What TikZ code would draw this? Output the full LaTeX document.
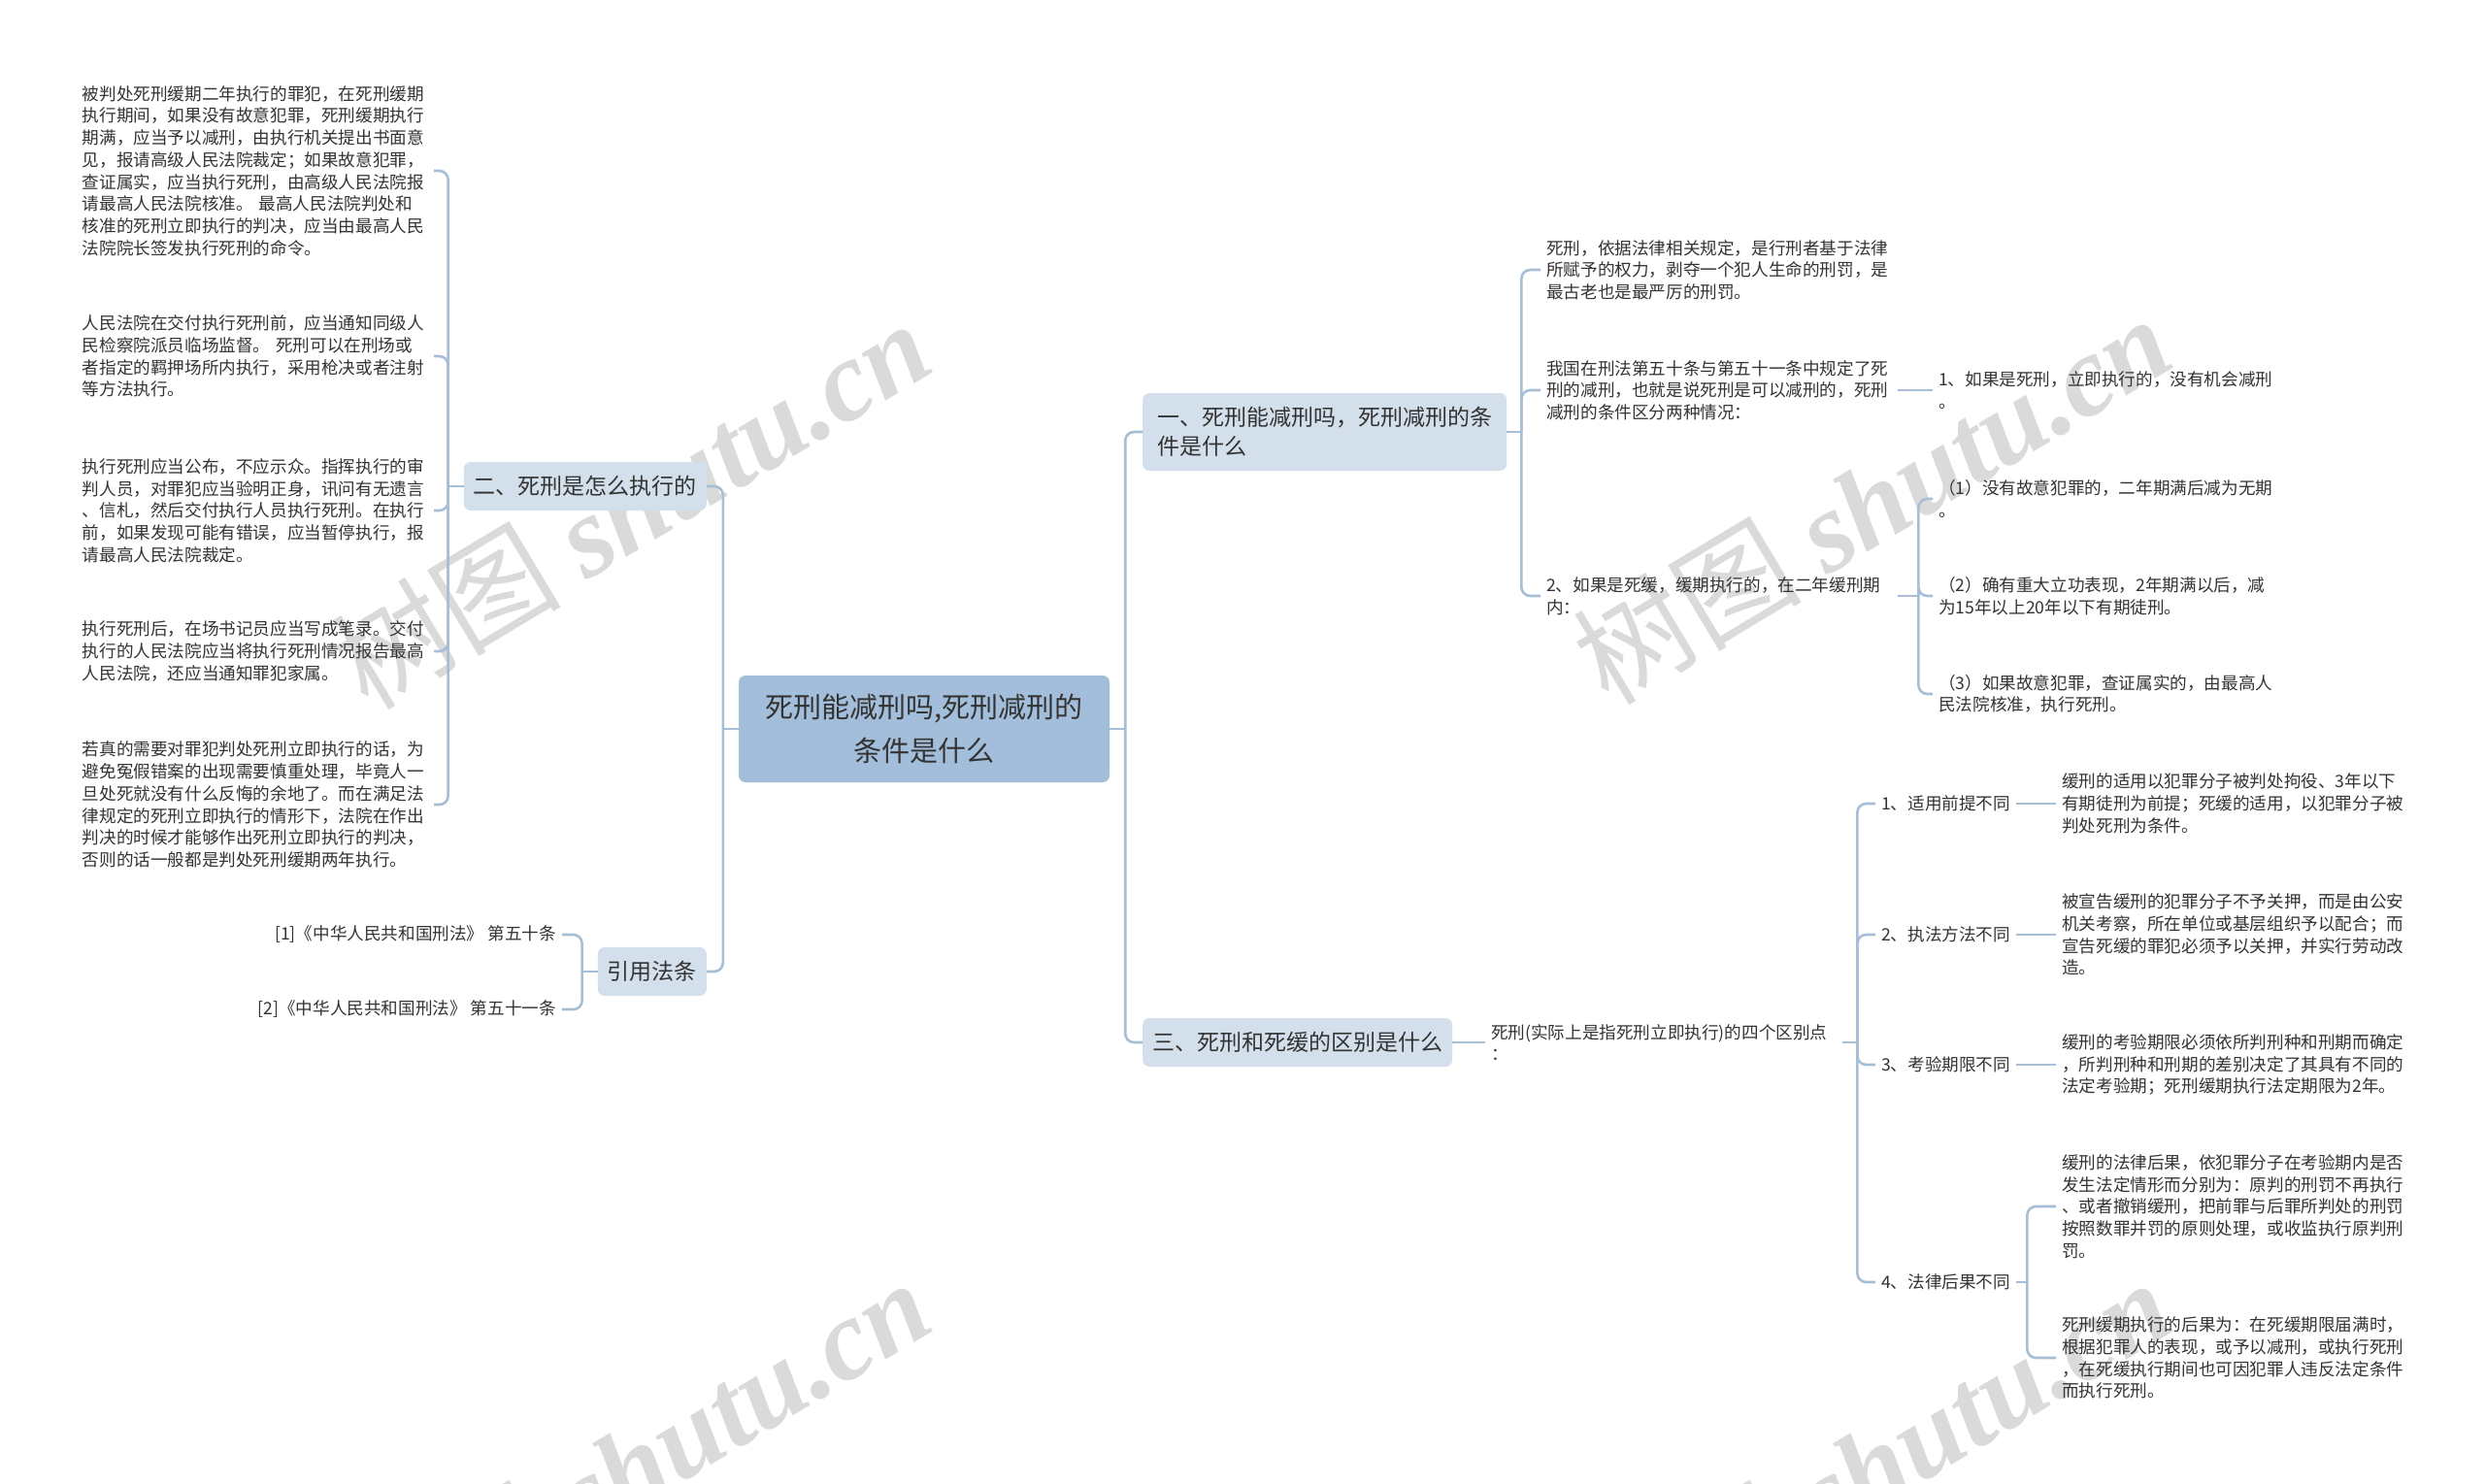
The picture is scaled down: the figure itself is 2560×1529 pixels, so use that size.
\documentclass[tikz,border=0pt]{standalone}
\usepackage{fontspec}
\setmainfont{Noto Sans CJK SC}
\newfontfamily\wmlatin{Liberation Serif}
\usepackage{tikz}
\definecolor{linkblue}{HTML}{A6BED6}
\definecolor{rootfill}{HTML}{A2BEDA}
\definecolor{topicfill}{HTML}{D3DFEA}
\definecolor{inkgray}{HTML}{333333}
\definecolor{markgray}{HTML}{DADADA}

\begin{document}
\begin{tikzpicture}[x=1pt, y=-1pt,
  link/.style={draw=linkblue, line width=2.6pt, rounded corners=9pt},
  rootbox/.style={fill=rootfill, rounded corners=7pt, align=center, text=inkgray, font=\fontsize{29}{45}\selectfont, minimum width=382pt, minimum height=110pt, inner sep=0pt},
  topicbox/.style={fill=topicfill, rounded corners=7pt, text=inkgray, font=\fontsize{23}{30}\selectfont, inner xsep=10pt, inner ysep=0pt, minimum height=50pt},
  leaf/.style={text=inkgray, font=\fontsize{17.6}{22.7}\selectfont, align=left, text width=356pt, inner xsep=6pt, inner ysep=2pt},
  tag/.style={text=inkgray, font=\fontsize{17.6}{22.7}\selectfont, inner xsep=6pt, inner ysep=2pt},
  wmark/.style={text=markgray, font=\fontsize{118}{118}\selectfont, rotate=31, inner sep=0pt}]
  \useasboundingbox (0,0) rectangle (2560,1529);
  \fill[white] (0,0) rectangle (2560,1529);
  \begin{scope}
    \clip (0,0) rectangle (2560,1529);
    \node[wmark] (w1) at (650,519) {树图 {\wmlatin\bfseries\itshape shutu.cn}};
    \node[wmark] (w2) at (1928,514) {树图 {\wmlatin\bfseries\itshape shutu.cn}};
    \node[wmark] (w3) at (650,1507) {树图 {\wmlatin\bfseries\itshape shutu.cn}};
    \node[wmark] (w4) at (1928,1507) {树图 {\wmlatin\bfseries\itshape shutu.cn}};
  \end{scope}
  \node[rootbox] (root) at (952,751) {死刑能减刑吗,死刑减刑的\\条件是什么};
  \node[topicbox, anchor=west, align=left, inner xsep=15pt, minimum height=80pt] (t1) at (1177,445) {一、死刑能减刑吗，死刑减刑的条\\件是什么};
  \node[topicbox, anchor=east] (t2) at (728,501) {二、死刑是怎么执行的};
  \node[topicbox, anchor=west] (t3) at (1177,1074) {三、死刑和死缓的区别是什么};
  \node[topicbox, anchor=east] (t4) at (728,1001) {引用法条};
  \node[leaf, anchor=east] (s1) at (447,176) {被判处死刑缓期二年执行的罪犯，在死刑缓期\\执行期间，如果没有故意犯罪，死刑缓期执行\\期满，应当予以减刑，由执行机关提出书面意\\见，报请高级人民法院裁定；如果故意犯罪，\\查证属实，应当执行死刑，由高级人民法院报\\请最高人民法院核准。 最高人民法院判处和\\核准的死刑立即执行的判决，应当由最高人民\\法院院长签发执行死刑的命令。};
  \node[leaf, anchor=east] (s2) at (447,367) {人民法院在交付执行死刑前，应当通知同级人\\民检察院派员临场监督。 死刑可以在刑场或\\者指定的羁押场所内执行，采用枪决或者注射\\等方法执行。};
  \node[leaf, anchor=east] (s3) at (447,526) {执行死刑应当公布，不应示众。指挥执行的审\\判人员，对罪犯应当验明正身，讯问有无遗言\\、信札，然后交付执行人员执行死刑。在执行\\前，如果发现可能有错误，应当暂停执行，报\\请最高人民法院裁定。};
  \node[leaf, anchor=east] (s4) at (447,671) {执行死刑后，在场书记员应当写成笔录。交付\\执行的人民法院应当将执行死刑情况报告最高\\人民法院，还应当通知罪犯家属。};
  \node[leaf, anchor=east] (s5) at (447,829) {若真的需要对罪犯判处死刑立即执行的话，为\\避免冤假错案的出现需要慎重处理，毕竟人一\\旦处死就没有什么反悔的余地了。而在满足法\\律规定的死刑立即执行的情形下，法院在作出\\判决的时候才能够作出死刑立即执行的判决，\\否则的话一般都是判处死刑缓期两年执行。};
  \node[tag, anchor=east] (r1) at (579,963) {[1]《中华人民共和国刑法》 第五十条};
  \node[tag, anchor=east] (r2) at (579,1040) {[2]《中华人民共和国刑法》 第五十一条};
  \node[leaf, anchor=west] (a1) at (1587,278) {死刑，依据法律相关规定，是行刑者基于法律\\所赋予的权力，剥夺一个犯人生命的刑罚，是\\最古老也是最严厉的刑罚。};
  \node[leaf, anchor=west] (a2) at (1587,402) {我国在刑法第五十条与第五十一条中规定了死\\刑的减刑，也就是说死刑是可以减刑的，死刑\\减刑的条件区分两种情况：};
  \node[leaf, anchor=west] (a3) at (1587,614) {2、如果是死缓，缓期执行的，在二年缓刑期\\内：};
  \node[leaf, anchor=west] (a21) at (1991,402) {1、如果是死刑，立即执行的，没有机会减刑\\。};
  \node[leaf, anchor=west] (a31) at (1991,514) {（1）没有故意犯罪的，二年期满后减为无期\\。};
  \node[leaf, anchor=west] (a32) at (1991,614) {（2）确有重大立功表现，2年期满以后，减\\为15年以上20年以下有期徒刑。};
  \node[leaf, anchor=west] (a33) at (1991,715) {（3）如果故意犯罪，查证属实的，由最高人\\民法院核准，执行死刑。};
  \node[leaf, anchor=west] (d0) at (1530,1074) {死刑(实际上是指死刑立即执行)的四个区别点\\：};
  \node[tag, anchor=west] (e1) at (1932,828) {1、适用前提不同};
  \node[tag, anchor=west] (e2) at (1932,963) {2、执法方法不同};
  \node[tag, anchor=west] (e3) at (1932,1097) {3、考验期限不同};
  \node[tag, anchor=west] (e4) at (1932,1321) {4、法律后果不同};
  \node[leaf, anchor=west] (f1) at (2118,828) {缓刑的适用以犯罪分子被判处拘役、3年以下\\有期徒刑为前提；死缓的适用，以犯罪分子被\\判处死刑为条件。};
  \node[leaf, anchor=west] (f2) at (2118,963) {被宣告缓刑的犯罪分子不予关押，而是由公安\\机关考察，所在单位或基层组织予以配合；而\\宣告死缓的罪犯必须予以关押，并实行劳动改\\造。};
  \node[leaf, anchor=west] (f3) at (2118,1097) {缓刑的考验期限必须依所判刑种和刑期而确定\\，所判刑种和刑期的差别决定了其具有不同的\\法定考验期；死刑缓期执行法定期限为2年。};
  \node[leaf, anchor=west] (g1) at (2118,1243) {缓刑的法律后果，依犯罪分子在考验期内是否\\发生法定情形而分别为：原判的刑罚不再执行\\、或者撤销缓刑，把前罪与后罪所判处的刑罚\\按照数罪并罚的原则处理，或收监执行原判刑\\罚。};
  \node[leaf, anchor=west] (g2) at (2118,1399) {死刑缓期执行的后果为：在死缓期限届满时，\\根据犯罪人的表现，或予以减刑，或执行死刑\\，在死缓执行期间也可因犯罪人违反法定条件\\而执行死刑。};
  \draw[link] (root.east) -- ++(16,0);
  \draw[link] ([xshift=16pt]root.east) |- (t1.west);
  \draw[link] ([xshift=16pt]root.east) |- (t3.west);
  \draw[link] (root.west) -- ++(-16,0);
  \draw[link] ([xshift=-16pt]root.west) |- (t2.east);
  \draw[link] ([xshift=-16pt]root.west) |- (t4.east);
  \draw[link] (t2.west) -- ++(-16,0);
  \draw[link] ([xshift=-16pt]t2.west) |- (s1.east);
  \draw[link] ([xshift=-16pt]t2.west) |- (s2.east);
  \draw[link] ([xshift=-16pt]t2.west) |- (s3.east);
  \draw[link] ([xshift=-16pt]t2.west) |- (s4.east);
  \draw[link] ([xshift=-16pt]t2.west) |- (s5.east);
  \draw[link] (t4.west) -- ++(-16,0);
  \draw[link] ([xshift=-16pt]t4.west) |- (r1.east);
  \draw[link] ([xshift=-16pt]t4.west) |- (r2.east);
  \draw[link] (t1.east) -- ++(15,0);
  \draw[link] ([xshift=15pt]t1.east) |- (a1.west);
  \draw[link] ([xshift=15pt]t1.east) |- (a2.west);
  \draw[link] ([xshift=15pt]t1.east) |- (a3.west);
  \draw[link] (a2.east) -- (a21.west);
  \draw[link] (a3.east) -- ++(21,0);
  \draw[link] ([xshift=21pt]a3.east) |- (a31.west);
  \draw[link] ([xshift=21pt]a3.east) |- (a32.west);
  \draw[link] ([xshift=21pt]a3.east) |- (a33.west);
  \draw[link] (t3.east) -- (d0.west);
  \draw[link] (d0.east) -- ++(15,0);
  \draw[link] ([xshift=15pt]d0.east) |- (e1.west);
  \draw[link] ([xshift=15pt]d0.east) |- (e2.west);
  \draw[link] ([xshift=15pt]d0.east) |- (e3.west);
  \draw[link] ([xshift=15pt]d0.east) |- (e4.west);
  \draw[link] (e1.east) -- (f1.west);
  \draw[link] (e2.east) -- (f2.west);
  \draw[link] (e3.east) -- (f3.west);
  \draw[link] (e4.east) -- ++(11,0);
  \draw[link] ([xshift=11pt]e4.east) |- (g1.west);
  \draw[link] ([xshift=11pt]e4.east) |- (g2.west);
\end{tikzpicture}
\end{document}
